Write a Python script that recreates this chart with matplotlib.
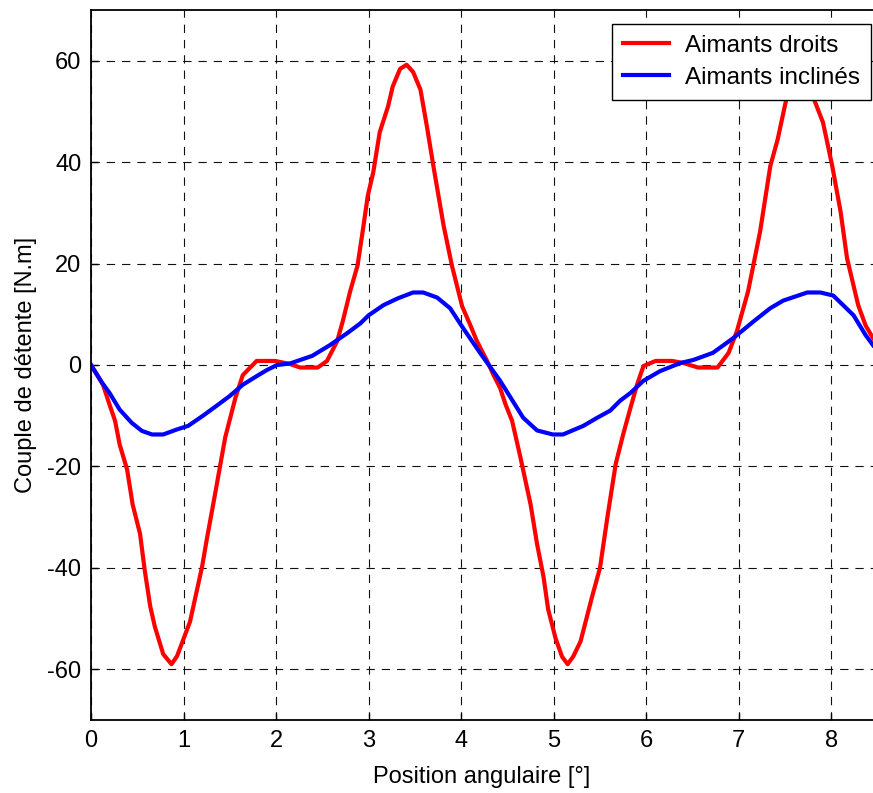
#!/usr/bin/env python3
import matplotlib
matplotlib.use("Agg")
import matplotlib.pyplot as plt

# Cogging torque, straight magnets
red_x = [0, 0.13, 0.2, 0.26, 0.31, 0.39, 0.45, 0.53, 0.58, 0.64, 0.69, 0.78, 0.87, 0.93,
         1.07, 1.2, 1.25, 1.34, 1.45, 1.56, 1.64, 1.79, 1.99, 2.15, 2.26, 2.45, 2.55, 2.66,
         2.72, 2.8, 2.88, 2.94, 2.99, 3.05, 3.12, 3.21, 3.26, 3.34, 3.41, 3.48, 3.56, 3.63,
         3.7, 3.81, 3.9, 4.01, 4.1, 4.17, 4.28, 4.35, 4.42, 4.48, 4.55, 4.64, 4.75, 4.82,
         4.89, 4.94, 5.02, 5.09, 5.15, 5.21, 5.29, 5.41, 5.5, 5.58, 5.67, 5.75, 5.83, 5.9,
         5.97, 6.1, 6.28, 6.4, 6.56, 6.77, 6.89, 6.98, 7.1, 7.23, 7.34, 7.42, 7.52, 7.58,
         7.66, 7.73, 7.8, 7.91, 8.01, 8.1, 8.17, 8.29, 8.37, 8.45]
red_y = [0, -3.9, -7.8, -11, -15.7, -20.6, -27.5, -33.3, -40.4, -47.6, -51.6, -57, -59, -57.4,
         -50.6, -39.8, -34.5, -25.5, -14.3, -6.5, -2, 0.8, 0.8, 0.2, -0.5, -0.5, 0.8, 4.7,
         8.6, 14.5, 19.6, 26.9, 33.3, 38, 45.9, 51, 54.9, 58.4, 59.2, 57.8, 54.3, 47,
         39.2, 27.5, 19.6, 11.6, 7.8, 4.7, 0.8, -2, -4.5, -7.8, -11, -18.2, -27.5, -35.3,
         -41.8, -48.2, -53.9, -57.5, -59, -57.5, -54.5, -46, -40, -30, -19.5, -13.7, -8.4, -3.9,
         -0.2, 0.8, 0.8, 0.4, -0.5, -0.5, 2.4, 6.7, 14.5, 26.3, 39.2, 44.5, 53, 57.5,
         59, 57.5, 53, 47.8, 39.2, 30.2, 21, 11.8, 7.8, 5.3]

# Cogging torque, skewed magnets
blue_x = [0, 0.12, 0.2, 0.31, 0.44, 0.55, 0.66, 0.78, 0.93, 1.05, 1.21, 1.36, 1.5, 1.64,
          1.79, 1.9, 2.01, 2.15, 2.39, 2.58, 2.77, 2.91, 3.0, 3.16, 3.31, 3.48, 3.59, 3.74,
          3.88, 4.02, 4.2, 4.42, 4.67, 4.82, 4.99, 5.1, 5.32, 5.47, 5.61, 5.72, 5.83, 5.97,
          6.15, 6.37, 6.51, 6.72, 6.94, 7.16, 7.34, 7.48, 7.74, 7.88, 8.02, 8.24, 8.37, 8.45]
blue_y = [0, -3.5, -5.5, -8.8, -11.4, -13, -13.7, -13.7, -12.7, -12, -10, -8, -6.1, -3.9,
          -2.2, -1, 0, 0.3, 1.8, 3.9, 6.3, 8.2, 9.8, 11.8, 13.1, 14.3, 14.3, 13.3,
          11.2, 7.3, 2.5, -3.1, -10.4, -12.9, -13.7, -13.7, -12, -10.4, -9, -7, -5.5, -3.1,
          -1.2, 0.4, 1, 2.4, 5.3, 8.6, 11.2, 12.7, 14.3, 14.3, 13.7, 9.8, 5.9, 3.9]

x_ticks = [0, 1, 2, 3, 4, 5, 6, 7, 8]
y_ticks = [-60, -40, -20, 0, 20, 40, 60]


def main():
    plt.rcParams["font.family"] = ["Liberation Sans", "DejaVu Sans"]
    plt.rcParams["lines.scale_dashes"] = False
    plt.rcParams["axes.unicode_minus"] = False

    fig = plt.figure(figsize=(8.73, 7.93), dpi=100)
    ax = fig.add_axes([91 / 873, 73 / 793, 782 / 873, 710 / 793])

    ax.plot(red_x, red_y, color="#ff0000", lw=3, label="Aimants droits")
    ax.plot(blue_x, blue_y, color="#0000ff", lw=3, label="Aimants inclinés")

    ax.set_xlim(0, 8.45)
    ax.set_ylim(-70, 70)
    ax.set_xticks(x_ticks)
    ax.set_yticks(y_ticks)

    ax.grid(True, color="#111111", lw=0.8, linestyle=(0, (6, 5)))
    ax.tick_params(direction="in", length=5, width=1, labelsize=17, pad=7)
    ax.spines["right"].set_visible(False)
    for s in ["left", "bottom", "top"]:
        ax.spines[s].set_linewidth(1.3)

    ax.set_xlabel("Position angulaire [°]", fontsize=17, labelpad=10)
    ax.set_ylabel("Couple de détente [N.m]", fontsize=17, labelpad=7)

    leg = ax.legend(loc="upper right", bbox_to_anchor=(871 / 873, 769 / 793),
                    bbox_transform=fig.transFigure, borderaxespad=0,
                    fontsize=17.5, fancybox=False, framealpha=1, edgecolor="black",
                    handlelength=1.9, handletextpad=0.65, borderpad=0.45,
                    labelspacing=0.4)
    leg.get_frame().set_linewidth(1.0)

    fig.savefig("out.png", dpi=100)


if __name__ == "__main__":
    main()
